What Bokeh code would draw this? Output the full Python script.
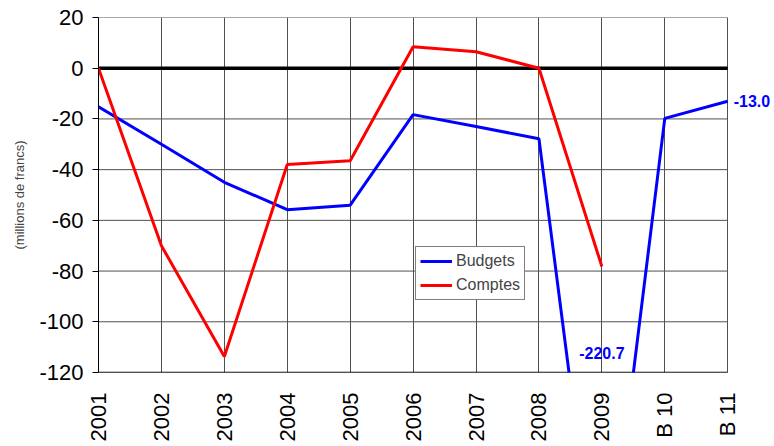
import numpy as np
from bokeh.plotting import figure
from bokeh.models import FixedTicker, Label, Legend, LegendItem, Range1d
from bokeh.embed import file_html
from bokeh.resources import INLINE

categories = ["2001", "2002", "2003", "2004", "2005", "2006", "2007", "2008", "2009", "B 10", "B 11"]
budgets = [-15.2, -30.0, -45.0, -55.8, -54.0, -18.3, -23.0, -27.8, -220.7, -19.8, -13.0]
comptes = [0.0, -70.0, -113.7, -38.0, -36.5, 8.5, 6.5, 0.0, -78.2]
y_ticks = [20, 0, -20, -40, -60, -80, -100, -120]

x_b = list(range(len(budgets)))
x_c = list(range(len(comptes)))
x_last = len(categories) - 1

FONT = "Liberation Sans"

p = figure(width=770, height=444, output_backend="svg", toolbar_location=None,
           x_range=Range1d(0, x_last + 0.68), y_range=Range1d(min(y_ticks), max(y_ticks)),
           min_border_left=98, min_border_right=0, min_border_top=17, min_border_bottom=72)
p.outline_line_color = None
p.background_fill_color = "white"
p.border_fill_color = "white"

p.xaxis.ticker = FixedTicker(ticks=list(range(len(categories))))
p.xaxis.major_label_overrides = {i: c for i, c in enumerate(categories)}
p.xaxis.major_label_orientation = np.pi / 2
p.xaxis.major_tick_out = 0
p.xaxis.major_tick_in = 0
p.xaxis.minor_tick_line_color = None
p.xaxis.major_label_standoff = 20
p.xaxis.major_label_text_font = FONT
p.xaxis.major_label_text_font_size = "22px"
p.xaxis.major_label_text_color = "black"
p.xaxis.axis_line_color = None

p.yaxis.ticker = FixedTicker(ticks=y_ticks)
p.yaxis.major_label_overrides = {t: str(t) for t in y_ticks}
p.yaxis.major_tick_out = 6
p.yaxis.major_tick_in = 0
p.yaxis.minor_tick_line_color = None
p.yaxis.major_label_standoff = 9
p.yaxis.major_label_text_font = FONT
p.yaxis.major_label_text_font_size = "22px"
p.yaxis.major_label_text_color = "black"
p.yaxis.axis_line_color = "black"
p.yaxis.axis_label = "(millions de francs)"
p.yaxis.axis_label_text_font = FONT
p.yaxis.axis_label_text_font_size = "13px"
p.yaxis.axis_label_text_font_style = "normal"
p.yaxis.axis_label_standoff = 9

# vertical grid at each category
p.xgrid.ticker = FixedTicker(ticks=list(range(len(categories))))
p.xgrid.grid_line_color = "#505050"
p.xgrid.grid_line_width = 1
p.ygrid.grid_line_color = None

# horizontal grid limited to the category span
n = len(y_ticks)
p.segment(x0=[0] * n, x1=[x_last] * n, y0=y_ticks, y1=y_ticks,
          line_color="#505050", line_width=1)
# bottom axis line
p.segment(x0=[0], x1=[x_last], y0=[min(y_ticks)], y1=[min(y_ticks)],
          line_color="black", line_width=1.5)
# zero line
p.segment(x0=[0], x1=[x_last], y0=[0], y1=[0], line_color="black", line_width=3.5)

rb = p.line(x_b, budgets, line_color="#0000FF", line_width=3)
rc = p.line(x_c, comptes, line_color="#FF0000", line_width=3)

legend = Legend(items=[LegendItem(label="Budgets", renderers=[rb]),
                       LegendItem(label="Comptes", renderers=[rc])],
                location=(317, 72))
legend.border_line_color = "black"
legend.border_line_width = 1
legend.background_fill_alpha = 1
legend.label_text_font = FONT
legend.label_text_font_size = "16px"
legend.glyph_width = 32
legend.glyph_height = 20
legend.label_height = 20
legend.spacing = 4
legend.padding = 4
legend.margin = 0
legend.label_standoff = 4
p.add_layout(legend)

i_min = int(np.argmin(budgets))
p.add_layout(Label(x=x_b[i_min], y=min(y_ticks), y_offset=20, text=f"{budgets[i_min]:.1f}",
                   text_color="#0000FF", text_font=FONT, text_font_style="bold",
                   text_font_size="16px", text_align="center", text_baseline="middle"))
p.add_layout(Label(x=x_b[-1], y=budgets[-1], x_offset=6, text=f"{budgets[-1]:.1f}",
                   text_color="#0000FF", text_font=FONT, text_font_style="bold",
                   text_font_size="16px", text_align="left", text_baseline="middle"))

open("out.html", "w").write(file_html(p, INLINE))
